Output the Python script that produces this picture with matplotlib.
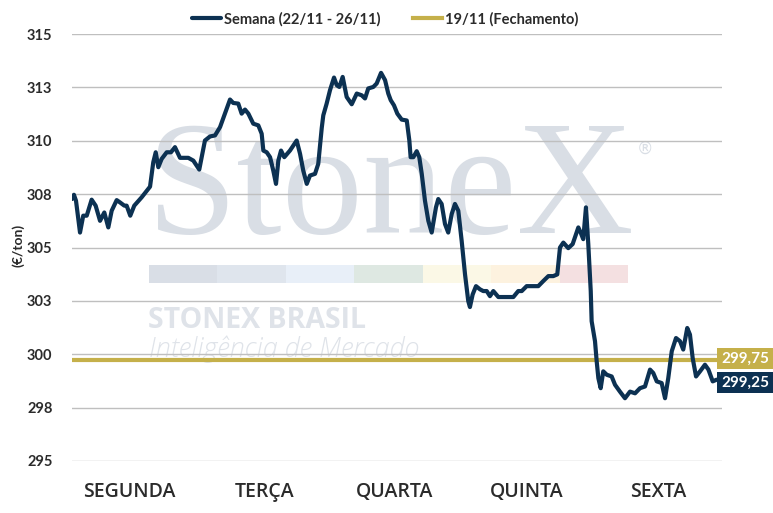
import matplotlib
matplotlib.use('Agg')
import matplotlib.pyplot as plt
from matplotlib.patches import Rectangle

# ---------------- data ----------------
days = ['SEGUNDA', 'TERÇA', 'QUARTA', 'QUINTA', 'SEXTA']
day_label_pos = [0.44, 1.49, 2.50, 3.52, 4.54]

yticks = [295, 297.5, 300, 302.5, 305, 307.5, 310, 312.5, 315]
ytick_labels = ['295', '298', '300', '303', '305', '308', '310', '313', '315']

# time in trading days since Monday open
t = [0.000, 0.015, 0.031, 0.062, 0.087, 0.114, 0.152, 0.183, 0.217, 0.250,
     0.281, 0.307, 0.346, 0.372, 0.405, 0.423, 0.451, 0.482, 0.539, 0.604,
     0.629, 0.648, 0.668, 0.694, 0.733, 0.766, 0.797, 0.836, 0.900, 0.939,
     0.985, 1.029, 1.068, 1.107, 1.146, 1.184, 1.223, 1.248, 1.287, 1.313,
     1.339, 1.365, 1.403, 1.442, 1.468, 1.481, 1.507, 1.533, 1.558, 1.579,
     1.597, 1.618, 1.643, 1.687, 1.739, 1.765, 1.790, 1.817, 1.842, 1.881,
     1.906, 1.933, 1.945, 1.971, 1.997, 2.028, 2.049, 2.069, 2.095, 2.126,
     2.165, 2.204, 2.242, 2.268, 2.293, 2.332, 2.358, 2.392, 2.423, 2.448,
     2.467, 2.492, 2.518, 2.552, 2.591, 2.611, 2.621, 2.642, 2.668, 2.688,
     2.707, 2.732, 2.758, 2.784, 2.817, 2.835, 2.861, 2.887, 2.912, 2.939,
     2.964, 2.990, 3.016, 3.042, 3.067, 3.080, 3.101, 3.127, 3.158, 3.183,
     3.210, 3.235, 3.261, 3.300, 3.338, 3.377, 3.416, 3.454, 3.481, 3.519,
     3.570, 3.609, 3.648, 3.687, 3.725, 3.756, 3.777, 3.803, 3.841, 3.875,
     3.919, 3.937, 3.957, 3.978, 3.996, 4.015, 4.022, 4.048, 4.061, 4.074,
     4.092, 4.112, 4.139, 4.177, 4.203, 4.241, 4.280, 4.319, 4.358, 4.396,
     4.435, 4.474, 4.499, 4.526, 4.564, 4.590, 4.615, 4.642, 4.675, 4.706,
     4.731, 4.762, 4.783, 4.804, 4.830, 4.861, 4.899, 4.926, 4.959, 4.990]

price = [307.27, 307.47, 307.19, 305.70, 306.49, 306.49, 307.24, 306.96, 306.25, 306.64,
         305.94, 306.72, 307.22, 307.11, 306.96, 306.96, 306.49, 306.96, 307.35, 307.85,
         308.99, 309.46, 308.76, 309.15, 309.46, 309.46, 309.70, 309.20, 309.20, 309.07,
         308.65, 310.01, 310.20, 310.25, 310.64, 311.27, 311.93, 311.77, 311.74, 311.27,
         311.46, 311.27, 310.80, 310.72, 310.33, 309.54, 309.46, 309.23, 308.60, 307.98,
         309.07, 309.54, 309.23, 309.54, 310.01, 309.39, 308.60, 307.98, 308.37, 308.45,
         308.92, 310.60, 311.19, 311.74, 312.37, 312.96, 312.60, 312.52, 312.99, 312.05,
         311.71, 312.21, 312.13, 311.98, 312.45, 312.52, 312.68, 313.18, 312.84, 312.21,
         311.90, 311.66, 311.27, 310.99, 310.95, 310.01, 309.23, 309.23, 309.51, 309.23,
         308.45, 307.19, 306.25, 305.70, 306.88, 307.27, 307.04, 306.10, 305.70, 306.57,
         307.04, 306.72, 305.31, 303.74, 302.49, 302.21, 302.80, 303.19, 303.04, 302.96,
         302.96, 302.72, 302.96, 302.68, 302.68, 302.68, 302.68, 302.96, 302.96, 303.19,
         303.19, 303.19, 303.43, 303.66, 303.66, 303.74, 305.00, 305.23, 304.97, 305.16,
         305.94, 305.70, 305.39, 306.88, 305.16, 302.96, 301.55, 300.61, 299.67, 298.88,
         298.41, 299.20, 299.04, 298.96, 298.57, 298.25, 297.94, 298.25, 298.17, 298.41,
         298.49, 299.28, 299.12, 298.73, 298.65, 297.94, 298.88, 300.14, 300.76, 300.61,
         300.22, 301.23, 300.92, 299.82, 298.96, 299.20, 299.51, 299.28, 298.73, 298.81]

close_19 = 299.75
close_label = '299,75'
last_label = '299,25'
series_names = ['Semana (22/11 - 26/11)', '19/11 (Fechamento)']
y_title = '(€/ton)'

# ---------------- style ----------------
NAVY = '#0c3152'
GOLD = '#c5b04a'
WM = '#d9dee5'
FONT = ['Lato', 'DejaVu Sans']
W, H = 773, 513

def fx(px):
    return px / W

def fy(py):
    return 1 - py / H

fig = plt.figure(figsize=(W / 100, H / 100), dpi=100)
ax = fig.add_axes([fx(72), fy(461), fx(722) - fx(72), fy(34) - fy(461)])
ax.patch.set_visible(False)

# watermark
ax.text(fx(146), fy(233), 'StoneX', transform=fig.transFigure, fontsize=117,
        family='Liberation Serif', color=WM, ha='left', va='baseline', zorder=0.1)
ax.text(fx(637), fy(149), '®', transform=fig.transFigure, fontsize=12,
        family='DejaVu Sans', color=WM, ha='left', va='center', zorder=0.1)
bar_cols = ['#d9dee6', '#dfe5ed', '#e8eff8', '#dee8e2', '#fbf8e6', '#fdf2df', '#f4e0e1']
seg = (628 - 149) / len(bar_cols)
for i, c in enumerate(bar_cols):
    ax.add_patch(Rectangle((fx(149 + i * seg), fy(283)), seg / W, 18 / H,
                           transform=fig.transFigure, facecolor=c, edgecolor='none',
                           zorder=0.1, clip_on=False))
ax.text(fx(148), fy(328), 'STONEX BRASIL', transform=fig.transFigure, fontsize=20.5,
        family=['Open Sans', 'DejaVu Sans'], weight='bold', color='#dfe3e9',
        ha='left', va='baseline', zorder=0.1)
ax.text(fx(149), fy(357), 'Inteligência de Mercado', transform=fig.transFigure, fontsize=19.5,
        family=['Open Sans', 'DejaVu Sans'], style='italic', weight='light', color='#dfe3e9',
        ha='left', va='baseline', zorder=0.1)

# series
ax.axhline(close_19, color=GOLD, lw=3.0, zorder=2, label=series_names[1])
ax.plot(t, price, color=NAVY, lw=3.0, solid_joinstyle='round', solid_capstyle='round',
        zorder=3, label=series_names[0])

ax.set_xlim(0, (722 - 72) / 129.2)
ax.set_ylim(295, 315)
ax.set_yticks(yticks)
ax.set_yticklabels(ytick_labels)
ax.set_xticks(day_label_pos)
ax.set_xticklabels(days)
ax.grid(axis='y', color='#bfbfbf', lw=1.0, zorder=0.5)
ax.set_axisbelow(True)
for s in ax.spines.values():
    s.set_visible(False)
ax.tick_params(axis='both', length=0)
ax.tick_params(axis='y', pad=14, labelsize=10.5, labelcolor='#2b2b2b')
ax.tick_params(axis='x', pad=15, labelsize=14, labelcolor='#2b2b2b')
for lab in ax.get_yticklabels():
    lab.set_family(FONT)
    lab.set_weight('bold')
for lab in ax.get_xticklabels():
    lab.set_family(['Open Sans', 'DejaVu Sans'])
    lab.set_weight('semibold')

fig.text(fx(18), fy(245), y_title, rotation=90, ha='center', va='center',
         fontsize=10, family=FONT, weight='bold', color='#2b2b2b')

# legend
handles, labels = ax.get_legend_handles_labels()
order = [1, 0]
leg = fig.legend([handles[i] for i in order], [labels[i] for i in order],
                 loc='center', bbox_to_anchor=(fx(385), fy(19)), ncol=2, frameon=False,
                 handlelength=2.0, handletextpad=0.2, columnspacing=2.2,
                 prop={'family': FONT, 'size': 10.5, 'weight': 'bold'})
for txt in leg.get_texts():
    txt.set_color('#2b2b2b')

# end labels
ax.add_patch(Rectangle((fx(717), fy(369)), 56 / W, 21 / H, transform=fig.transFigure,
                       facecolor=GOLD, edgecolor='none', clip_on=False, zorder=4))
ax.text(fx(745), fy(358.5), close_label, transform=fig.transFigure, ha='center', va='center',
        color='white', fontsize=11, family=FONT, weight='bold', zorder=5)
ax.add_patch(Rectangle((fx(717), fy(393)), 56 / W, 21 / H, transform=fig.transFigure,
                       facecolor=NAVY, edgecolor='none', clip_on=False, zorder=4))
ax.text(fx(745), fy(382.5), last_label, transform=fig.transFigure, ha='center', va='center',
        color='white', fontsize=11, family=FONT, weight='bold', zorder=5)

fig.savefig('out.png', dpi=100)
